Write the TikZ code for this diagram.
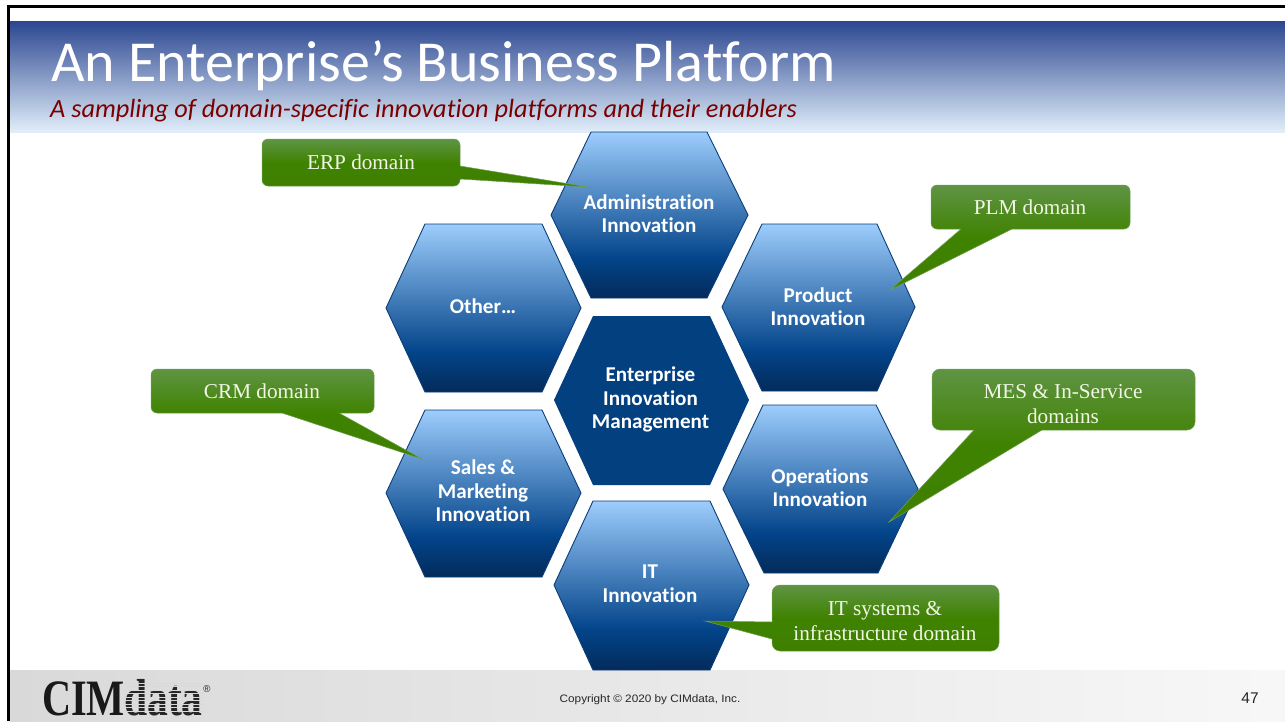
\documentclass[tikz,border=0pt]{standalone}
\usepackage{fontspec}
\setmainfont[Ligatures=NoCommon]{Carlito}
\newfontfamily\serifface{Liberation Serif}
\newfontfamily\sansface{Liberation Sans}
\definecolor{hexline}{HTML}{0B3E78}
\definecolor{hexcore}{HTML}{03407F}
\definecolor{capred}{HTML}{7A0000}
\definecolor{calltext}{HTML}{F2F6E6}
\definecolor{callline}{HTML}{6FA04F}
\definecolor{footgray}{HTML}{D9D9D9}
\definecolor{HEXA}{HTML}{032B5A}
\definecolor{HEXB}{HTML}{03448A}
\definecolor{HEXC}{HTML}{9DCDFC}
\definecolor{CALA}{HTML}{3F7F00}
\definecolor{CALB}{HTML}{3F8200}
\definecolor{CALC}{HTML}{5F9444}
\pgfdeclareverticalshading{hexshade}{100bp}{color(0bp)=(HEXA);color(25bp)=(HEXA);color(37bp)=(HEXB);color(75bp)=(HEXC);color(100bp)=(HEXC)}
\pgfdeclareverticalshading{callshade}{100bp}{color(0bp)=(CALA);color(25bp)=(CALA);color(50bp)=(CALB);color(75bp)=(CALC);color(100bp)=(CALC)}
\tikzset{
 hexfill/.style={shading=hexshade,draw=hexline,line width=0.9pt,line join=miter},
 hexlabel/.style={font=\fontsize{21.1}{23.6}\selectfont\bfseries,text=white,align=center,inner sep=0pt},
 calloutfill/.style={shading=callshade,draw=callline,line width=0.5pt},
 calllabel/.style={font=\serifface\fontsize{21.2}{25}\selectfont,text=calltext,align=center,inner sep=0pt},
}
\begin{document}
\begin{tikzpicture}[x=1pt,y=-1pt]
\useasboundingbox (0,0) rectangle (1285,721);
\fill[white] (0,0) rectangle (1285,721);
% header
\shade[top color={rgb,255:red,43;green,70;blue,144},bottom color={rgb,255:red,225;green,238;blue,250}] (10,21) rectangle (1285,132);
% footer
\shade[left color=footgray,right color=white!97!black] (10,670) rectangle (1285,721);
% frame
\draw[black,line width=2.6pt] (8.5,721) -- (8.5,6.5) -- (1285,6.5);
% title
\node[anchor=base west,inner sep=0pt,text=white,font=\fontsize{58}{60}\selectfont] (title) at (51,81) {An Enterprise’s Business Platform};
\node[anchor=base west,inner sep=0pt,text=capred,font=\fontsize{26.3}{30}\selectfont\itshape] (subtitle) at (50,117) {A sampling of domain-specific innovation platforms and their enablers};
% hexagons
\path[hexfill] (591,132) -- (707,132) -- (748,215) -- (707,298) -- (591,298) -- (551,215) -- cycle;
\path[hexfill] (762,224) -- (877,224) -- (915,307) -- (877,391) -- (762,391) -- (722,307) -- cycle;
\path[hexfill] (425,224) -- (542,224) -- (581,308) -- (542,392) -- (425,392) -- (386,308) -- cycle;
\fill[hexcore] (593,316) -- (710,316) -- (749,400) -- (710,485) -- (593,485) -- (554,400) -- cycle;
\path[hexfill] (425,410) -- (542,410) -- (581,493) -- (542,577) -- (425,577) -- (386,493) -- cycle;
\path[hexfill] (763,405) -- (876,405) -- (918,489) -- (878,573) -- (764,573) -- (723,489) -- cycle;
\path[hexfill] (593,501) -- (710,501) -- (749,585) -- (710,670) -- (593,670) -- (554,585) -- cycle;
\node[hexlabel] (admin) at (649,213.5) {Administration\\Innovation};
\node[hexlabel] (product) at (818,306.5) {Product\\Innovation};
\node[hexlabel] (other) at (483,306.5) {Other…};
\node[hexlabel] (core) at (650.5,399.5) {Enterprise\\Innovation\\Management};
\node[hexlabel] (sales) at (483,491) {Sales \&\\Marketing\\Innovation};
\node[hexlabel] (ops) at (820,487.5) {Operations\\Innovation};
\node[hexlabel] (it) at (650,584) {IT\\Innovation};
% callouts
\path[calloutfill] (268,139) -- (454,139) arc[start angle=-90,end angle=0,radius=6] -- (460,166) -- (588,187) -- (460,179) -- (460,180) arc[start angle=0,end angle=90,radius=6] -- (268,186) arc[start angle=90,end angle=180,radius=6] -- (262,145) arc[start angle=180,end angle=270,radius=6] -- cycle;
\path[calloutfill] (937,185) -- (1124,185) arc[start angle=-90,end angle=0,radius=6] -- (1130,223) arc[start angle=0,end angle=90,radius=6] -- (1012,229) -- (890,290) -- (961,229) -- (937,229) arc[start angle=90,end angle=180,radius=6] -- (931,191) arc[start angle=180,end angle=270,radius=6] -- cycle;
\path[calloutfill] (157,369) -- (368,369) arc[start angle=-90,end angle=0,radius=6] -- (374,407) arc[start angle=0,end angle=90,radius=6] -- (339,413) -- (422,459) -- (282,413) -- (157,413) arc[start angle=90,end angle=180,radius=6] -- (151,375) arc[start angle=180,end angle=270,radius=6] -- cycle;
\path[calloutfill] (940,369) -- (1187,369) arc[start angle=-90,end angle=0,radius=8] -- (1195,422) arc[start angle=0,end angle=90,radius=8] -- (1042,430) -- (889,522) -- (974,430) -- (940,430) arc[start angle=90,end angle=180,radius=8] -- (932,377) arc[start angle=180,end angle=270,radius=8] -- cycle;
\path[calloutfill] (780,585) -- (991,585) arc[start angle=-90,end angle=0,radius=8] -- (999,643) arc[start angle=0,end angle=90,radius=8] -- (780,651) arc[start angle=90,end angle=180,radius=8] -- (772,639) -- (705,621) -- (772,622) -- (772,593) arc[start angle=180,end angle=270,radius=8] -- cycle;
\node[calllabel] (erp) at (361,162) {ERP domain};
\node[calllabel] (plm) at (1030,207) {PLM domain};
\node[calllabel] (crm) at (262,391) {CRM domain};
\node[calllabel] (mes) at (1063,404) {MES \& In-Service\\domains};
\node[calllabel] (itsys) at (885,621) {IT systems \&\\infrastructure domain};
% footer text
\node[anchor=base,inner sep=0pt,font=\sansface\fontsize{12}{14}\selectfont,text=black!85] (copy) at (650,702) {\scalebox{0.98}[0.9]{Copyright © 2020 by CIMdata, Inc.}};
\node[anchor=base,inner sep=0pt,font=\sansface\fontsize{15.5}{17}\selectfont,text=black!85] (page) at (1250,703) {47};
% logo
\node[anchor=base west,inner sep=0pt,font=\serifface\bfseries\fontsize{51}{52}\selectfont,text=black!90] (logocim) at (42,715.5) {\scalebox{0.79}[1]{CIM}};
\node[anchor=base west,inner sep=0pt,font=\serifface\bfseries\fontsize{52}{53}\selectfont,text=black!85] (logodata) at (124,715.5) {\scalebox{0.8}[1]{data}};
\node[anchor=base west,inner sep=0pt,font=\sansface\fontsize{10}{10}\selectfont,text=black!85] (logoreg) at (203,692) {®};
\foreach \yy in {683,686.5,690,693.5,697,700.5,704,707.5,711}{\draw[footgray,line width=0.8pt] (124,\yy) -- (204,\yy);}
\end{tikzpicture}
\end{document}
